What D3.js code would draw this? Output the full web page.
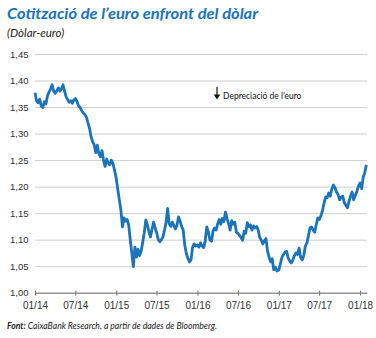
<!DOCTYPE html>
<html>
<head>
<meta charset="utf-8">
<script src="https://cdn.jsdelivr.net/npm/d3@7"></script>
<style>
  body { margin: 0; background: #fff; }
  svg { display: block; font-family: Lato, "DejaVu Sans", sans-serif; }
  .axes text { fill: #333; font-size: 9.5px; }
  .grid line { stroke: #cfcfcf; stroke-width: 1; }
</style>
</head>
<body>
<div id="canvas"></div>
<script>
// DATA (weekly EUR/USD)
const values2014 = [1.377, 1.362, 1.358, 1.365, 1.352, 1.349, 1.360, 1.356, 1.371, 1.378, 1.384, 1.392, 1.380,
  1.376, 1.381, 1.386, 1.380, 1.385, 1.392, 1.380, 1.369, 1.364, 1.359, 1.362, 1.357, 1.364,
  1.366, 1.360, 1.352, 1.349, 1.343, 1.339, 1.336, 1.331, 1.320, 1.310, 1.294, 1.285, 1.279,
  1.264, 1.278, 1.262, 1.256, 1.268, 1.250, 1.238, 1.252, 1.245, 1.241, 1.250, 1.244, 1.232];
const values2015 = [1.216, 1.195, 1.175, 1.156, 1.124, 1.141, 1.135, 1.138, 1.128, 1.100, 1.075, 1.049, 1.086,
  1.067, 1.082, 1.070, 1.078, 1.095, 1.113, 1.137, 1.128, 1.115, 1.105, 1.120, 1.133, 1.122,
  1.113, 1.100, 1.096, 1.100, 1.105, 1.118, 1.133, 1.159, 1.130, 1.125, 1.133, 1.127, 1.120,
  1.127, 1.143, 1.135, 1.125, 1.118, 1.090, 1.074, 1.065, 1.058, 1.062, 1.085, 1.092, 1.088];
const values2016 = [1.090, 1.086, 1.094, 1.088, 1.085, 1.098, 1.124, 1.115, 1.100, 1.097, 1.116, 1.122, 1.118,
  1.130, 1.138, 1.129, 1.140, 1.134, 1.152, 1.140, 1.130, 1.118, 1.136, 1.129, 1.133, 1.114,
  1.112, 1.108, 1.104, 1.099, 1.116, 1.112, 1.132, 1.124, 1.128, 1.118, 1.126, 1.122, 1.125,
  1.118, 1.104, 1.099, 1.092, 1.098, 1.102, 1.078, 1.067, 1.058, 1.064, 1.043, 1.048, 1.041];
const values2017 = [1.043, 1.055, 1.067, 1.072, 1.077, 1.078, 1.065, 1.060, 1.056, 1.062, 1.070, 1.075, 1.072,
  1.084, 1.066, 1.062, 1.070, 1.088, 1.094, 1.108, 1.122, 1.124, 1.118, 1.114, 1.128, 1.141,
  1.138, 1.145, 1.155, 1.169, 1.180, 1.179, 1.188, 1.182, 1.196, 1.203, 1.198, 1.190, 1.185,
  1.175, 1.180, 1.182, 1.170, 1.165, 1.160, 1.172, 1.182, 1.190, 1.175, 1.183, 1.190, 1.200];
const values2018 = [1.207, 1.196, 1.218, 1.226, 1.241];

const yTicks = [1.00, 1.05, 1.10, 1.15, 1.20, 1.25, 1.30, 1.35, 1.40, 1.45];
const xTickLabels = ["01/14", "07/14", "01/15", "07/15", "01/16", "07/16", "01/17", "07/17", "01/18"];

const title = "Cotització de l’euro enfront del dòlar";
const subtitle = "(Dòlar-euro)";
const note = "Depreciació de l’euro";

function drawGraph() {

  // DIMENSIONS
  const width = 376;
  const height = 338;
  const margin = { top: 54, right: 9, bottom: 45.3, left: 35 };
  const plot_height = height - margin.top - margin.bottom;
  const plot_width = width - margin.left - margin.right;

  // CANVAS AND PLOT
  const canvas = d3.select("#canvas")
    .append("svg")
    .attr("width", width)
    .attr("height", height);

  const plot = canvas.append("g")
    .attr("transform", `translate(${margin.left},${margin.top})`);

  // MANIPULATE DATA
  const years = [[2014, values2014], [2015, values2015], [2016, values2016], [2017, values2017], [2018, values2018]];
  const data = [];
  years.forEach(([yr, vals]) => {
    vals.forEach((v, i) => data.push({ date: new Date(yr, 0, 1 + 7 * i), value: v }));
  });
  const tickDates = xTickLabels.map(s => d3.timeParse("%m/%y")(s));

  // SCALES
  const scaleX = d3.scaleTime()
    .domain([new Date(2014, 0, 1), new Date(2018, 1, 1)])
    .range([0, plot_width]);

  const scaleY = d3.scaleLinear()
    .domain([1.00, 1.45])
    .range([plot_height, 0]);

  // GRID + Y AXIS
  const commaFormatter = d => d3.format(".2f")(d).replace(".", ",");

  const yaxis = plot.append("g")
    .attr("class", "axes grid")
    .call(d3.axisLeft(scaleY).tickValues(yTicks).tickFormat(commaFormatter)
      .tickSize(-plot_width).tickPadding(8));
  yaxis.select(".domain").remove();
  yaxis.selectAll(".tick text").attr("x", -25).style("text-anchor", "start");

  // X AXIS
  const xaxis = plot.append("g")
    .attr("class", "axes")
    .attr("transform", `translate(0, ${plot_height})`)
    .call(d3.axisBottom(scaleX).tickValues(tickDates).tickFormat(d3.timeFormat("%m/%y"))
      .tickSizeOuter(0).tickPadding(6));
  xaxis.select(".domain").attr("stroke", "#777");
  xaxis.selectAll(".tick line").attr("stroke", "#777").attr("y1", -2).attr("y2", 3);
  xaxis.selectAll(".tick text").attr("y", 9).style("font-size", "10px");

  // LINE
  const line = d3.line()
    .x(d => scaleX(d.date))
    .y(d => scaleY(d.value))
    .curve(d3.curveLinear);

  plot.append("path")
    .datum(data)
    .attr("fill", "none")
    .attr("stroke", "#1a74bb")
    .attr("stroke-width", 2.8)
    .attr("stroke-linejoin", "round")
    .attr("d", line);

  // ANNOTATION
  const ann = canvas.append("g");
  ann.append("line")
    .attr("x1", 217).attr("x2", 217).attr("y1", 87).attr("y2", 97)
    .attr("stroke", "#111").attr("stroke-width", 1.2);
  ann.append("path")
    .attr("d", "M213.8,94.5 L220.2,94.5 L217,99.5 Z")
    .attr("fill", "#111");
  ann.append("text")
    .attr("x", 223).attr("y", 99)
    .style("font-size", "8.5px").style("fill", "#111")
    .text(note);

  // HEADLINE
  canvas.append("text")
    .attr("x", 7).attr("y", 19)
    .attr("textLength", 251).attr("lengthAdjust", "spacingAndGlyphs")
    .style("font-size", "16px").style("font-weight", "bold").style("font-style", "italic")
    .style("fill", "#1a74bb")
    .text(title);

  canvas.append("text")
    .attr("x", 7).attr("y", 37)
    .style("font-size", "11.5px").style("font-style", "italic").style("fill", "#222")
    .text(subtitle);

  // SOURCE
  const src = canvas.append("text")
    .attr("x", 7).attr("y", 329)
    .attr("textLength", 210).attr("lengthAdjust", "spacingAndGlyphs")
    .style("font-size", "8.7px").style("font-style", "italic").style("fill", "#222");
  src.append("tspan").style("font-weight", "bold").text("Font:");
  src.append("tspan").text(" CaixaBank Research, a partir de dades de Bloomberg.");
}

drawGraph();
</script>
</body>
</html>
